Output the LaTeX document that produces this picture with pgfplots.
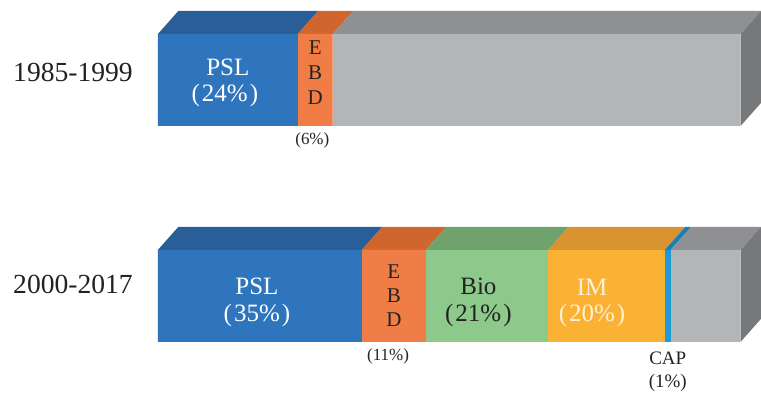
\documentclass[border=0pt]{standalone}
\usepackage{pgfplots}
\pgfplotsset{compat=1.18}
\usepackage{fontspec}
\setmainfont{Liberation Serif}

% front faces
\definecolor{pslF}{HTML}{2E75BE}
\definecolor{ebdF}{HTML}{F07D45}
\definecolor{bioF}{HTML}{8DC98A}
\definecolor{imF}{HTML}{FBB133}
\definecolor{capF}{HTML}{1E9AD6}
\definecolor{othF}{HTML}{B3B6B9}
% top faces
\definecolor{pslT}{HTML}{2A5E98}
\definecolor{ebdT}{HTML}{D0652D}
\definecolor{bioT}{HTML}{6FA26C}
\definecolor{imT}{HTML}{D99331}
\definecolor{capT}{HTML}{1A7FB5}
\definecolor{othT}{HTML}{8E9093}
% right side
\definecolor{othS}{HTML}{76787A}
\definecolor{txt}{HTML}{222222}
\definecolor{imTxt}{HTML}{FFF1D2}

\pgfplotsset{
  frame/.style={
    x=2.915pt, y=0.5pt,
    xmin=-27.1, xmax=103.5, ymin=0, ymax=396,
    hide axis, clip=false,
    at={(0,0)}, anchor=south west,
  },
  face/.style={fill=#1, draw=none},
}

\begin{document}
\begin{tikzpicture}
\useasboundingbox (0,0) rectangle (380.7pt,198pt);

% ---- top and side faces (depth 3.5 % right, 23 units up) ----
\begin{axis}[frame]
  % 1985-1999 : front top edge at 362
  \addplot[face=pslT] coordinates {(0,362) (24,362) (27.5,385) (3.5,385)} -- cycle;
  \addplot[face=ebdT] coordinates {(24,362) (30,362) (33.5,385) (27.5,385)} -- cycle;
  \addplot[face=othT] coordinates {(30,362) (100,362) (103.5,385) (33.5,385)} -- cycle;
  \addplot[face=othS] coordinates {(100,270) (100,362) (103.5,385) (103.5,293)} -- cycle;
  % 2000-2017 : front top edge at 146
  \addplot[face=pslT] coordinates {(0,146) (35,146) (38.5,169) (3.5,169)} -- cycle;
  \addplot[face=ebdT] coordinates {(35,146) (46,146) (49.5,169) (38.5,169)} -- cycle;
  \addplot[face=bioT] coordinates {(46,146) (67,146) (70.5,169) (49.5,169)} -- cycle;
  \addplot[face=imT]  coordinates {(67,146) (87,146) (90.5,169) (70.5,169)} -- cycle;
  \addplot[face=capT] coordinates {(87,146) (88,146) (91.5,169) (90.5,169)} -- cycle;
  \addplot[face=othT] coordinates {(88,146) (100,146) (103.5,169) (91.5,169)} -- cycle;
  \addplot[face=othS] coordinates {(100,54) (100,146) (103.5,169) (103.5,77)} -- cycle;
\end{axis}

% ---- front faces: shares in percent ----
\begin{axis}[frame, xbar stacked, bar width=92]
  \addplot[face=pslF] coordinates {(24,316) (35,100)};
  \addplot[face=ebdF] coordinates {(6,316)  (11,100)};
  \addplot[face=bioF] coordinates {(0,316)  (21,100)};
  \addplot[face=imF]  coordinates {(0,316)  (20,100)};
  \addplot[face=capF] coordinates {(0,316)  (1,100)};
  \addplot[face=othF] coordinates {(70,316) (12,100)};
\end{axis}

% ---- labels ----
\begin{axis}[frame]
  % period labels
  \node[anchor=west, inner sep=0pt, text=txt, font=\fontsize{13.8}{16}\selectfont] at (axis cs:-24.9,323) {1985-1999};
  \node[anchor=west, inner sep=0pt, text=txt, font=\fontsize{13.8}{16}\selectfont] at (axis cs:-24.9,111) {2000-2017};

  % 1985-1999
  \node[text=white, font=\fontsize{12.5}{14}\selectfont] at (axis cs:12,329) {PSL};
  \node[text=white, font=\fontsize{12.5}{14}\selectfont] at (axis cs:11.5,300) {(\kern1pt24\%\kern1pt)};
  \node[text=txt, font=\fontsize{10.5}{12}\selectfont] at (axis cs:27,348) {E};
  \node[text=txt, font=\fontsize{10.5}{12}\selectfont] at (axis cs:27,323) {B};
  \node[text=txt, font=\fontsize{10.5}{12}\selectfont] at (axis cs:27,298) {D};
  \node[text=txt, font=\fontsize{8.5}{10}\selectfont] at (axis cs:26.5,256) {(6\%)};

  % 2000-2017
  \node[text=white, font=\fontsize{12.5}{14}\selectfont] at (axis cs:17,109) {PSL};
  \node[text=white, font=\fontsize{12.5}{14}\selectfont] at (axis cs:17,80) {(\kern1pt35\%\kern1pt)};
  \node[text=txt, font=\fontsize{10.5}{12}\selectfont] at (axis cs:40.5,124) {E};
  \node[text=txt, font=\fontsize{10.5}{12}\selectfont] at (axis cs:40.5,100) {B};
  \node[text=txt, font=\fontsize{10.5}{12}\selectfont] at (axis cs:40.5,76) {D};
  \node[text=txt, font=\fontsize{8.5}{10}\selectfont] at (axis cs:39.5,39) {(11\%)};
  \node[text=txt, font=\fontsize{12.5}{14}\selectfont] at (axis cs:55,109) {Bio};
  \node[text=txt, font=\fontsize{12.5}{14}\selectfont] at (axis cs:55,80) {(\kern1pt21\%\kern1pt)};
  \node[text=imTxt, font=\fontsize{12.5}{14}\selectfont] at (axis cs:74.5,109) {IM};
  \node[text=imTxt, font=\fontsize{12.5}{14}\selectfont] at (axis cs:74.5,80) {(\kern1pt20\%\kern1pt)};
  \node[text=txt, font=\fontsize{9.5}{11}\selectfont] at (axis cs:87.5,38) {CAP};
  \node[text=txt, font=\fontsize{9.5}{11}\selectfont] at (axis cs:87.5,13) {(1\%)};
\end{axis}
\end{tikzpicture}
\end{document}
